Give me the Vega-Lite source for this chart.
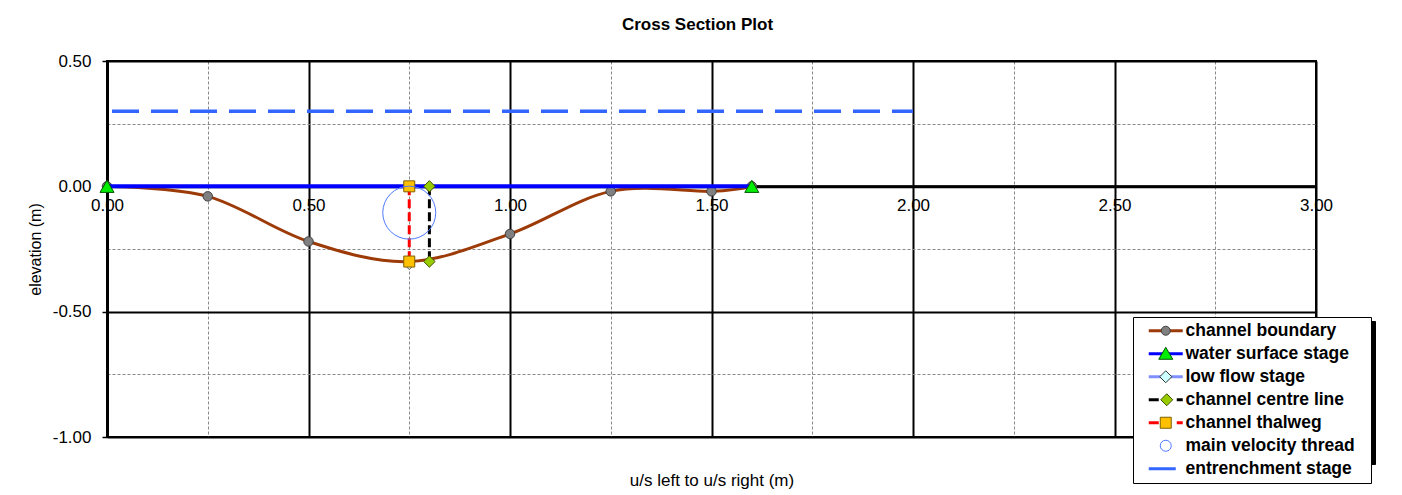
{
  "$schema": "https://vega.github.io/schema/vega-lite/v6.json",
  "width": 1209,
  "height": 376,
  "autosize": "none",
  "padding": {"left": 107, "top": 61, "right": 86, "bottom": 58},
  "background": "white",
  "title": {"text": "Cross Section Plot", "frame": "group", "anchor": "middle", "dx": -14, "offset": 5, "baseline": "alphabetic", "fontSize": 17, "fontWeight": "bold", "font": "Liberation Sans", "color": "#000"},
  "config": {"font": "Liberation Sans", "view": {"stroke": "#000", "strokeWidth": 2}},
  "datasets": {
    "xs": [
      {"series": "channel boundary", "x": 0, "y": 0},
      {"series": "channel boundary", "x": 0.25, "y": -0.04},
      {"series": "channel boundary", "x": 0.5, "y": -0.22},
      {"series": "channel boundary", "x": 0.75, "y": -0.3},
      {"series": "channel boundary", "x": 1.0, "y": -0.19},
      {"series": "channel boundary", "x": 1.25, "y": -0.02},
      {"series": "channel boundary", "x": 1.5, "y": -0.02},
      {"series": "channel boundary", "x": 1.6, "y": 0},
      {"series": "water surface stage", "x": 0, "y": 0},
      {"series": "water surface stage", "x": 1.6, "y": 0},
      {"series": "low flow stage", "x": 0.75, "y": -0.31},
      {"series": "channel centre line", "x": 0.8, "y": 0},
      {"series": "channel centre line", "x": 0.8, "y": -0.3},
      {"series": "channel thalweg", "x": 0.75, "y": 0},
      {"series": "channel thalweg", "x": 0.75, "y": -0.3},
      {"series": "main velocity thread", "x": 0.75, "y": -0.105},
      {"series": "entrenchment stage", "x": 0, "y": 0.3},
      {"series": "entrenchment stage", "x": 2.0, "y": 0.3}
    ]
  },
  "data": {"name": "xs"},
  "layer": [
    {
      "mark": {"type": "point", "size": 4},
      "encoding": {
        "x": {"field": "x", "type": "quantitative", "axis": null, "scale": {"domain": [0, 3], "nice": false, "zero": false}},
        "y": {"field": "y", "type": "quantitative", "axis": null, "scale": {"domain": [-1, 0.5], "nice": false, "zero": false}},
        "opacity": {"field": "series", "type": "nominal",
          "scale": {"domain": ["channel boundary", "water surface stage", "low flow stage", "channel centre line", "channel thalweg", "main velocity thread", "entrenchment stage"],
                    "range": [0, 0, 0, 0, 0, 0, 0]},
          "legend": {"title": null, "orient": "none", "legendX": 1030, "legendY": 260, "padding": 5, "fillColor": "#000", "strokeColor": "#000",
            "symbolSize": 4, "symbolStrokeWidth": 1, "symbolOffset": 19, "labelOffset": 191, "rowPadding": 4,
            "labelFontSize": 17.5, "labelFontWeight": "bold", "labelFont": "Liberation Sans", "labelColor": "transparent", "labelLimit": 400,
            "labelExpr": "' '"}}
      }
    },
    {
      "transform": [{"filter": "datum.series === 'entrenchment stage'"}],
      "mark": {"type": "line", "color": "#3366FF", "strokeWidth": 3.5, "strokeDash": [27, 12], "strokeDashOffset": 34},
      "encoding": {
        "x": {"field": "x", "type": "quantitative", "scale": {"domain": [0, 3], "nice": false, "zero": false},
          "axis": {"orient": "bottom", "values": [0.25, 0.75, 1.25, 1.75, 2.25, 2.75], "grid": true, "gridColor": "#888888", "gridDash": [3, 2], "gridWidth": 1, "labels": false, "ticks": false, "domain": false, "title": null}},
        "y": {"field": "y", "type": "quantitative", "scale": {"domain": [-1, 0.5], "nice": false, "zero": false},
          "axis": {"orient": "left", "values": [0.25, -0.25, -0.75], "grid": true, "gridColor": "#888888", "gridDash": [3, 2], "gridWidth": 1, "labels": false, "ticks": false, "domain": false, "title": null}}
      }
    },
    {
      "transform": [{"filter": "datum.series === 'channel boundary'"}],
      "mark": {"type": "line", "color": "#9C3B07", "strokeWidth": 3, "interpolate": "cardinal"},
      "encoding": {
        "x": {"field": "x", "type": "quantitative",
          "axis": {"orient": "bottom", "values": [0, 0.5, 1, 1.5, 2, 2.5, 3], "grid": true, "gridColor": "#000", "gridWidth": 2, "labels": false, "ticks": false, "domain": false, "title": null}},
        "y": {"field": "y", "type": "quantitative",
          "axis": {"orient": "left", "values": [-1, -0.5, 0, 0.5], "grid": true, "gridColor": "#000", "gridWidth": 2, "labels": false, "ticks": false, "domain": false, "title": null}}
      }
    },
    {
      "transform": [{"filter": "datum.series === 'channel boundary'"}],
      "mark": {"type": "point", "shape": "circle", "filled": true, "fill": "#808080", "stroke": "#404040", "strokeWidth": 1, "size": 90, "opacity": 1},
      "encoding": {
        "x": {"field": "x", "type": "quantitative", "axis": null},
        "y": {"field": "y", "type": "quantitative", "axis": null}
      }
    },
    {
      "transform": [{"filter": "datum.series === 'water surface stage'"}],
      "mark": {"type": "line", "color": "#0000FF", "strokeWidth": 4},
      "encoding": {
        "x": {"field": "x", "type": "quantitative",
          "axis": {"orient": "bottom", "offset": -250.7, "values": [0, 0.5, 1, 1.5, 2, 2.5, 3], "format": ".2f", "grid": false, "ticks": false, "tickSize": 0, "labelPadding": 11,
            "labelFontSize": 17, "labelColor": "#000", "labelFont": "Liberation Sans", "labelOverlap": false, "labelFlush": false,
            "domain": true, "domainColor": "#000", "domainWidth": 3,
            "title": "u/s left to u/s right (m)", "titleFontSize": 17, "titleFontWeight": "normal", "titleColor": "#000", "titleY": 294, "titleBaseline": "middle"}},
        "y": {"field": "y", "type": "quantitative",
          "axis": {"orient": "left", "values": [-1, -0.5, 0, 0.5], "format": ".2f", "labelExpr": "replace(datum.label, '\u2212', '-')", "grid": false, "ticks": true, "tickSize": 5, "tickColor": "#000", "tickWidth": 1.5, "labelPadding": 11,
            "labelFontSize": 17, "labelColor": "#000", "labelFont": "Liberation Sans", "labelOverlap": false, "labelFlush": false,
            "domain": true, "domainColor": "#000", "domainWidth": 3,
            "title": "elevation (m)", "titleFontSize": 16, "titleFontWeight": "normal", "titleColor": "#000", "titleX": -72, "titleBaseline": "middle"}}
      }
    },
    {
      "transform": [{"filter": "datum.series === 'water surface stage'"}],
      "mark": {"type": "point", "shape": "triangle-up", "filled": true, "fill": "#00EE00", "stroke": "#005500", "strokeWidth": 1, "size": 196, "opacity": 1},
      "encoding": {
        "x": {"field": "x", "type": "quantitative", "axis": null},
        "y": {"field": "y", "type": "quantitative", "axis": null}
      }
    },
    {
      "transform": [{"filter": "datum.series === 'low flow stage'"}],
      "mark": {"type": "point", "shape": "diamond", "filled": true, "fill": "#EEFFFF", "stroke": "#555555", "strokeWidth": 1, "size": 121, "opacity": 1},
      "encoding": {
        "x": {"field": "x", "type": "quantitative", "axis": null},
        "y": {"field": "y", "type": "quantitative", "axis": null}
      }
    },
    {
      "transform": [{"filter": "datum.series === 'channel centre line'"}],
      "mark": {"type": "line", "color": "#000000", "strokeWidth": 3, "strokeDash": [9, 4]},
      "encoding": {
        "x": {"field": "x", "type": "quantitative", "axis": null},
        "y": {"field": "y", "type": "quantitative", "axis": null},
        "order": {"field": "y", "sort": "descending"}
      }
    },
    {
      "transform": [{"filter": "datum.series === 'channel centre line'"}],
      "mark": {"type": "point", "shape": "diamond", "filled": true, "fill": "#99CC00", "stroke": "#3D5200", "strokeWidth": 1, "size": 130, "opacity": 1},
      "encoding": {
        "x": {"field": "x", "type": "quantitative", "axis": null},
        "y": {"field": "y", "type": "quantitative", "axis": null}
      }
    },
    {
      "transform": [{"filter": "datum.series === 'channel thalweg'"}],
      "mark": {"type": "line", "color": "#FF0000", "strokeWidth": 3, "strokeDash": [9, 4]},
      "encoding": {
        "x": {"field": "x", "type": "quantitative", "axis": null},
        "y": {"field": "y", "type": "quantitative", "axis": null},
        "order": {"field": "y", "sort": "descending"}
      }
    },
    {
      "transform": [{"filter": "datum.series === 'channel thalweg'"}],
      "mark": {"type": "point", "shape": "square", "filled": true, "fill": "#FFC000", "stroke": "#7F6000", "strokeWidth": 1, "size": 121, "opacity": 1},
      "encoding": {
        "x": {"field": "x", "type": "quantitative", "axis": null},
        "y": {"field": "y", "type": "quantitative", "axis": null}
      }
    },
    {
      "transform": [{"filter": "datum.series === 'main velocity thread'"}],
      "mark": {"type": "point", "shape": "circle", "filled": false, "stroke": "#4D79FF", "strokeWidth": 1, "size": 2809, "opacity": 1},
      "encoding": {
        "x": {"field": "x", "type": "quantitative", "axis": null},
        "y": {"field": "y", "type": "quantitative", "axis": null}
      }
    },
    {
      "mark": {"type": "point", "opacity": 0, "size": 4, "filled": false},
      "encoding": {
        "x": {"field": "x", "type": "quantitative", "axis": null},
        "y": {"field": "y", "type": "quantitative", "axis": null},
        "stroke": {"field": "series", "type": "nominal",
          "scale": {"domain": ["channel boundary", "water surface stage", "low flow stage", "channel centre line", "channel thalweg", "main velocity thread", "entrenchment stage"],
                    "range": ["#9C3B07", "#0000FF", "#7F8FFF", "#000000", "#FF0000", "transparent", "#3366FF"]},
          "legend": {"title": null, "orient": "none", "legendX": 1026, "legendY": 256, "padding": 5, "fillColor": "#fff", "strokeColor": "#000",
            "symbolSize": 4, "symbolStrokeWidth": 3, "symbolOffset": 19, "labelOffset": 191, "rowPadding": 4,
            "labelFontSize": 17.5, "labelFontWeight": "bold", "labelFont": "Liberation Sans", "labelColor": "transparent", "labelLimit": 400,
            "labelExpr": "' '",
            "encode": {"legend": {"update": {"strokeWidth": {"value": 1.5}}}, "symbols": {"update": {"opacity": {"value": 1}, "fill": {"value": "transparent"}}}}}},
        "shape": {"field": "series", "type": "nominal",
          "scale": {"domain": ["channel boundary", "water surface stage", "low flow stage", "channel centre line", "channel thalweg", "main velocity thread", "entrenchment stage"],
                    "range": ["M-17,0H17", "M-17,0H17", "M-17,0H17", "M-17,0H-7M11,0H17", "M-17,0H-7M11,0H17", "M-17,0H17", "M-17,0H10"]},
          "legend": {"title": null, "orient": "none", "legendX": 1026, "legendY": 256, "padding": 5, "fillColor": "#fff", "strokeColor": "#000",
            "symbolSize": 4, "symbolStrokeWidth": 3, "symbolOffset": 19, "labelOffset": 191, "rowPadding": 4,
            "labelFontSize": 17.5, "labelFontWeight": "bold", "labelFont": "Liberation Sans", "labelColor": "transparent", "labelLimit": 400,
            "labelExpr": "' '"}}
      }
    },
    {
      "mark": {"type": "point", "opacity": 0, "size": 4, "filled": true},
      "encoding": {
        "x": {"field": "x", "type": "quantitative", "axis": null},
        "y": {"field": "y", "type": "quantitative", "axis": null},
        "fill": {"field": "series", "type": "nominal",
          "scale": {"domain": ["channel boundary", "water surface stage", "low flow stage", "channel centre line", "channel thalweg", "main velocity thread", "entrenchment stage"],
                    "range": ["#808080", "#00EE00", "#CCFFFF", "#99CC00", "#FFC000", "transparent", "transparent"]},
          "legend": {"title": null, "orient": "none", "legendX": 1026, "legendY": 256, "padding": 5,
            "symbolSize": 4, "symbolStrokeWidth": 1, "symbolOffset": 19, "labelOffset": 11, "rowPadding": 4,
            "labelFontSize": 17.5, "labelFontWeight": "bold", "labelFont": "Liberation Sans", "labelColor": "#000", "labelLimit": 400,
            "encode": {"symbols": {"update": {"opacity": {"value": 1}}}}}},
        "stroke": {"field": "series", "type": "nominal",
          "scale": {"domain": ["channel boundary", "water surface stage", "low flow stage", "channel centre line", "channel thalweg", "main velocity thread", "entrenchment stage"],
                    "range": ["#404040", "#005500", "#333333", "#3D5200", "#7F6000", "#4D79FF", "transparent"]},
          "legend": {"title": null, "orient": "none", "legendX": 1026, "legendY": 256, "padding": 5,
            "symbolSize": 4, "symbolStrokeWidth": 1, "symbolOffset": 19, "labelOffset": 11, "rowPadding": 4,
            "labelFontSize": 17.5, "labelFontWeight": "bold", "labelFont": "Liberation Sans", "labelColor": "#000", "labelLimit": 400}},
        "shape": {"field": "series", "type": "nominal",
          "scale": {"domain": ["channel boundary", "water surface stage", "low flow stage", "channel centre line", "channel thalweg", "main velocity thread", "entrenchment stage"],
                    "range": ["M4.5,0A4.5,4.5,0,1,1,-4.5,0A4.5,4.5,0,1,1,4.5,0Z", "M0,-6.5L7,5.5L-7,5.5Z", "M0,-6L6,0L0,6L-6,0Z", "M1,-6L7,0L1,6L-5,0Z", "M-5.5,-5.5H5.5V5.5H-5.5Z", "M5.5,0A5.5,5.5,0,1,1,-5.5,0A5.5,5.5,0,1,1,5.5,0Z", "M4,0A4,4,0,1,1,-4,0A4,4,0,1,1,4,0Z"]},
          "legend": {"title": null, "orient": "none", "legendX": 1026, "legendY": 256, "padding": 5,
            "symbolSize": 4, "symbolStrokeWidth": 1, "symbolOffset": 19, "labelOffset": 11, "rowPadding": 4,
            "labelFontSize": 17.5, "labelFontWeight": "bold", "labelFont": "Liberation Sans", "labelColor": "#000", "labelLimit": 400}}
      }
    }
  ],
  "resolve": {
    "axis": {"x": "independent", "y": "independent"},
    "scale": {"stroke": "independent", "fill": "independent", "shape": "independent", "opacity": "independent"},
    "legend": {"stroke": "independent", "fill": "independent", "shape": "independent", "opacity": "independent"}
  }
}
